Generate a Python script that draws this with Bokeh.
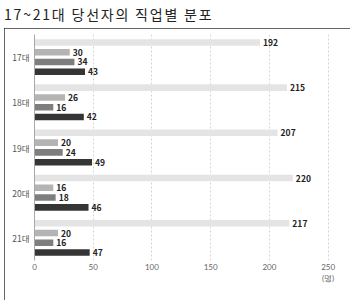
from bokeh.plotting import figure
from bokeh.models import (ColumnDataSource, FactorRange, Range1d, Legend, LegendItem,
                          FixedTicker, Div)
from bokeh.layouts import column
from bokeh.transform import dodge
from bokeh.core.properties import value
from bokeh.embed import file_html
from bokeh.resources import INLINE

# ---- data ----
groups = ["17대", "18대", "19대", "20대", "21대"]
series = ["정치인", "변호사", "교수", "기타"]
politician = [192, 215, 207, 220, 217]
lawyer = [30, 26, 20, 16, 20]
professor = [34, 16, 24, 18, 16]
other = [43, 42, 49, 46, 47]
colors = ["#e4e4e4", "#b4b4b4", "#7e7e7e", "#353535"]
x_ticks = [0, 50, 100, 150, 200, 250]
unit_label = "(명)"
title_text = "17~21대 당선자의 직업별 분포"

values_by_series = [politician, lawyer, professor, other]
offsets = [0.325, 0.108, -0.108, -0.325]

FONT = "Noto Sans CJK KR"

title = Div(text=title_text, width=352, height=28, margin=(0, 0, 0, 0),
            styles={"font-family": FONT, "font-size": "14px", "font-weight": "normal",
                    "color": "#222222", "line-height": "28px", "letter-spacing": "1.8px",
                    "padding-left": "4px", "white-space": "nowrap"})

p = figure(frame_width=303, frame_height=226, output_backend="svg", toolbar_location=None,
           y_range=FactorRange(*reversed(groups), range_padding=0),
           x_range=Range1d(0, 258),
           min_border_left=30, min_border_right=13,
           min_border_top=6, min_border_bottom=38,
           margin=(0, 0, 0, 4),
           styles={"outline": "2px solid #333333", "outline-offset": "-2px"})

renderers = []
for s, vals, c, off in zip(series, values_by_series, colors, offsets):
    src = ColumnDataSource(dict(g=groups, v=vals, lab=[str(v) for v in vals]))
    r = p.hbar(y=dodge("g", off, range=p.y_range), left=0, right="v", height=0.145,
               source=src, fill_color=c, line_color=None)
    renderers.append(r)
    p.text(x="v", y=dodge("g", off, range=p.y_range), text="lab", source=src, x_offset=3,
           text_font=value(FONT), text_font_size="8.5px", text_font_style="bold",
           text_color="#222222", text_baseline="middle", text_align="left")

# axes
p.xaxis.ticker = FixedTicker(ticks=x_ticks)
p.xaxis.major_label_overrides = {250: "250\n" + unit_label}
p.xaxis.axis_line_color = None
p.xaxis.major_tick_line_color = None
p.xaxis.minor_tick_line_color = None
p.xaxis.major_tick_out = 0
p.xaxis.major_tick_in = 0
p.xaxis.minor_tick_out = 0
p.xaxis.major_label_text_font = "Lato"
p.xaxis.major_label_text_font_size = "8px"
p.xaxis.major_label_text_line_height = 1.1
p.xaxis.major_label_text_color = "#666666"
p.xaxis.major_label_standoff = 1

p.yaxis.axis_line_color = "#a8a8a8"
p.yaxis.axis_line_width = 1
p.yaxis.major_tick_line_color = None
p.yaxis.minor_tick_line_color = None
p.yaxis.major_tick_out = 0
p.yaxis.major_tick_in = 0
p.yaxis.major_label_text_font = FONT
p.yaxis.major_label_text_font_size = "8.5px"
p.yaxis.major_label_text_color = "#555555"
p.yaxis.major_label_standoff = 5

p.ygrid.grid_line_color = None
p.xgrid.grid_line_color = "#d4d4d4"
p.xgrid.grid_line_dash = "2 2"
p.outline_line_color = None

# legend
legend = Legend(items=[LegendItem(label=s, renderers=[r]) for s, r in zip(series, renderers)],
                orientation="horizontal", location=(53, 16),
                glyph_width=14, glyph_height=6, label_height=8,
                label_text_font=FONT, label_text_font_size="8px",
                label_text_line_height=1.0,
                label_text_color="#555555", label_standoff=5, spacing=8,
                padding=0, margin=0, border_line_color=None,
                background_fill_alpha=0)
p.add_layout(legend, "below")

layout = column(title, p, spacing=0)
open("out.html", "w").write(file_html(layout, INLINE))
